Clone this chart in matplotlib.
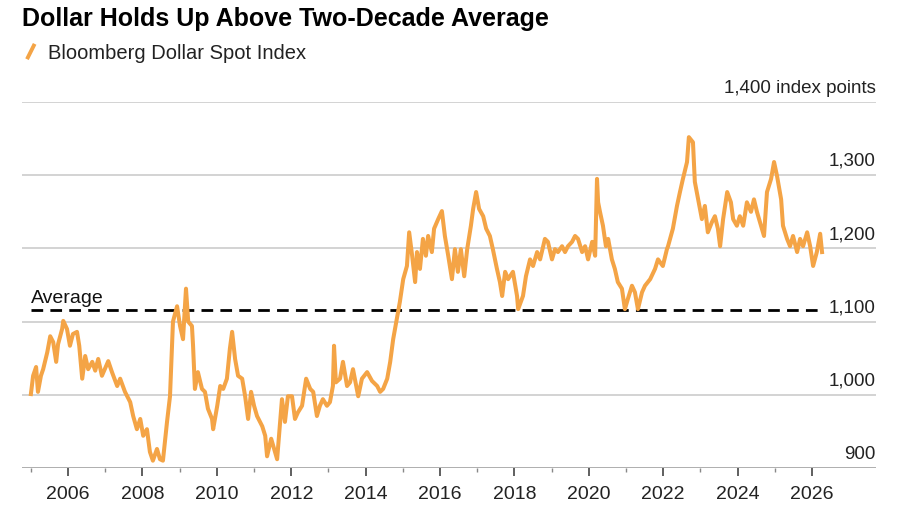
import matplotlib

matplotlib.use("Agg")
import matplotlib.pyplot as plt
from matplotlib.lines import Line2D
from matplotlib.ticker import FixedLocator

# Bloomberg Dollar Spot Index (decimal year, index points)
years = [
    2005.00, 2005.06, 2005.14, 2005.19, 2005.27, 2005.33, 2005.44, 2005.52, 2005.60, 2005.68,
    2005.73, 2005.84, 2005.87, 2005.97, 2006.05, 2006.13, 2006.24, 2006.30, 2006.38, 2006.46,
    2006.54, 2006.65, 2006.73, 2006.81, 2006.91, 2007.08, 2007.18, 2007.32, 2007.40, 2007.53,
    2007.67, 2007.75, 2007.85, 2007.94, 2008.02, 2008.12, 2008.20, 2008.28, 2008.39, 2008.47,
    2008.55, 2008.66, 2008.74, 2008.82, 2008.93, 2009.01, 2009.09, 2009.17, 2009.23, 2009.33,
    2009.36, 2009.41, 2009.49, 2009.60, 2009.68, 2009.76, 2009.87, 2009.90, 2010.01, 2010.09,
    2010.17, 2010.27, 2010.35, 2010.41, 2010.49, 2010.57, 2010.68, 2010.76, 2010.84, 2010.92,
    2011.00, 2011.08, 2011.22, 2011.30, 2011.35, 2011.46, 2011.54, 2011.62, 2011.67, 2011.75,
    2011.83, 2011.91, 2012.02, 2012.10, 2012.18, 2012.29, 2012.40, 2012.51, 2012.59, 2012.69,
    2012.77, 2012.85, 2012.96, 2013.04, 2013.12, 2013.15, 2013.20, 2013.31, 2013.39, 2013.50,
    2013.58, 2013.66, 2013.80, 2013.90, 2014.04, 2014.17, 2014.31, 2014.39, 2014.47, 2014.58,
    2014.66, 2014.74, 2014.84, 2014.92, 2015.01, 2015.11, 2015.17, 2015.25, 2015.33, 2015.38,
    2015.46, 2015.54, 2015.62, 2015.68, 2015.78, 2015.84, 2015.95, 2016.05, 2016.13, 2016.22,
    2016.32, 2016.40, 2016.48, 2016.56, 2016.65, 2016.73, 2016.83, 2016.89, 2016.97, 2017.05,
    2017.16, 2017.24, 2017.34, 2017.42, 2017.53, 2017.61, 2017.67, 2017.75, 2017.83, 2017.96,
    2018.07, 2018.10, 2018.23, 2018.31, 2018.42, 2018.50, 2018.61, 2018.69, 2018.82, 2018.90,
    2019.01, 2019.09, 2019.17, 2019.28, 2019.36, 2019.44, 2019.55, 2019.63, 2019.71, 2019.82,
    2019.90, 2019.98, 2020.09, 2020.17, 2020.22, 2020.25, 2020.30, 2020.38, 2020.46, 2020.52,
    2020.62, 2020.70, 2020.78, 2020.89, 2020.97, 2021.05, 2021.16, 2021.24, 2021.32, 2021.43,
    2021.51, 2021.65, 2021.78, 2021.86, 2021.99, 2022.10, 2022.13, 2022.26, 2022.37, 2022.45,
    2022.53, 2022.64, 2022.69, 2022.80, 2022.85, 2022.94, 2023.04, 2023.12, 2023.20, 2023.31,
    2023.39, 2023.47, 2023.53, 2023.61, 2023.72, 2023.82, 2023.88, 2023.98, 2024.06, 2024.15,
    2024.25, 2024.36, 2024.44, 2024.52, 2024.63, 2024.71, 2024.79, 2024.90, 2024.98, 2025.06,
    2025.17, 2025.22, 2025.33, 2025.41, 2025.49, 2025.60, 2025.68, 2025.76, 2025.87, 2025.95,
    2026.03, 2026.13, 2026.22, 2026.27,
]
values = [
    1001, 1026, 1038, 1004, 1026, 1035, 1058, 1080, 1072, 1045,
    1069, 1090, 1101, 1090, 1067, 1083, 1086, 1067, 1022, 1053,
    1035, 1045, 1033, 1049, 1026, 1046, 1031, 1012, 1022, 1004,
    990, 971, 953, 967, 944, 953, 922, 910, 926, 912,
    910, 963, 998, 1100, 1121, 1094, 1076, 1145, 1100, 1094,
    1067, 1008, 1031, 1008, 1004, 981, 967, 953, 985, 1012,
    1008, 1022, 1063, 1086, 1049, 1026, 1022, 998, 967, 1004,
    985, 971, 957, 944, 916, 940, 926, 912, 944, 994,
    963, 998, 998, 967, 976, 985, 1022, 1008, 1004, 971,
    985, 994, 985, 990, 1012, 1067, 1017, 1022, 1045, 1012,
    1017, 1035, 998, 1022, 1031, 1019, 1012, 1004, 1008, 1022,
    1045, 1076, 1104, 1127, 1158, 1176, 1222, 1190, 1154, 1195,
    1172, 1213, 1190, 1217, 1195, 1227, 1240, 1251, 1217, 1190,
    1158, 1199, 1168, 1199, 1162, 1199, 1231, 1254, 1277, 1254,
    1244, 1227, 1217, 1199, 1172, 1154, 1135, 1168, 1158, 1168,
    1135, 1117, 1135, 1162, 1185, 1176, 1195, 1185, 1213, 1209,
    1185, 1199, 1195, 1203, 1195, 1203, 1209, 1217, 1213, 1195,
    1203, 1185, 1209, 1190, 1295, 1263, 1250, 1231, 1203, 1213,
    1185, 1172, 1154, 1145, 1117, 1131, 1149, 1140, 1117, 1140,
    1149, 1158, 1172, 1185, 1176, 1199, 1203, 1227, 1258, 1277,
    1295, 1318, 1352, 1345, 1291, 1267, 1240, 1258, 1222, 1236,
    1244, 1227, 1203, 1240, 1277, 1263, 1240, 1231, 1244, 1231,
    1263, 1250, 1267, 1250, 1231, 1217, 1277, 1295, 1318, 1299,
    1267, 1231, 1213, 1203, 1217, 1195, 1213, 1203, 1222, 1203,
    1176, 1195, 1220, 1195,
]
average = 1116
avg_span = [2005.0, 2026.3]
y_ticks = [900, 1000, 1100, 1200, 1300, 1400]
y_labels = ["900", "1,000", "1,100", "1,200", "1,300", "1,400 index points"]
major_years = list(range(2006, 2027, 2))
minor_years = list(range(2005, 2027, 2))

ORANGE = "#F4A446"
GRID = "#d0d0d0"
plt.rcParams["font.family"] = ["Liberation Sans", "DejaVu Sans"]

fig = plt.figure(figsize=(9, 5.1), dpi=100)
ax = fig.add_axes([0.0244, 0.0804, 0.9489, 0.7176])

for v in y_ticks[1:]:
    ax.axhline(v, color=GRID, lw=1.3, zorder=1)
ax.axhline(y_ticks[0], color="#a8a8a8", lw=1.3, zorder=1)

ax.plot(avg_span, [average, average], color="black", lw=2, dashes=(4.2, 2.6), zorder=2)
ax.plot(years, values, color=ORANGE, lw=2.9, solid_joinstyle="round", zorder=3)

ax.set_xlim(2004.76, 2027.72)
ax.set_ylim(900, 1400)
for s in ax.spines.values():
    s.set_visible(False)
ax.set_yticks([])

ax.xaxis.set_major_locator(FixedLocator(major_years))
ax.xaxis.set_minor_locator(FixedLocator(minor_years))
ax.set_xticklabels([str(y) for y in major_years], fontsize=14, color="#222222")
ax.tick_params(axis="x", which="major", length=6, width=1.2, color="#444444", pad=6)
ax.tick_params(axis="x", which="minor", length=3, width=1, color="#888888")

# value labels sit just above their gridlines, right aligned
for v, lab in zip(y_ticks, y_labels):
    ax.annotate(lab, xy=(1.0, v), xycoords=("axes fraction", "data"),
                xytext=(0, 4.5), textcoords="offset points",
                ha="right", va="bottom", fontsize=13.5, color="#222222")

ax.annotate("Average", xy=(2005.0, average), xytext=(0, 3), textcoords="offset points",
            ha="left", va="bottom", fontsize=14, color="#111111")

fig.text(0.024, 0.963, "Dollar Holds Up Above Two-Decade Average", fontsize=18,
         fontweight="bold", ha="left", va="center", color="black")
fig.add_artist(Line2D([0.030, 0.0385], [0.882, 0.912], transform=fig.transFigure,
                      color=ORANGE, lw=2.8, solid_capstyle="butt"))
fig.text(0.053, 0.896, "Bloomberg Dollar Spot Index", fontsize=14.5,
         ha="left", va="center", color="#222222")

fig.savefig("out.png", dpi=100)
